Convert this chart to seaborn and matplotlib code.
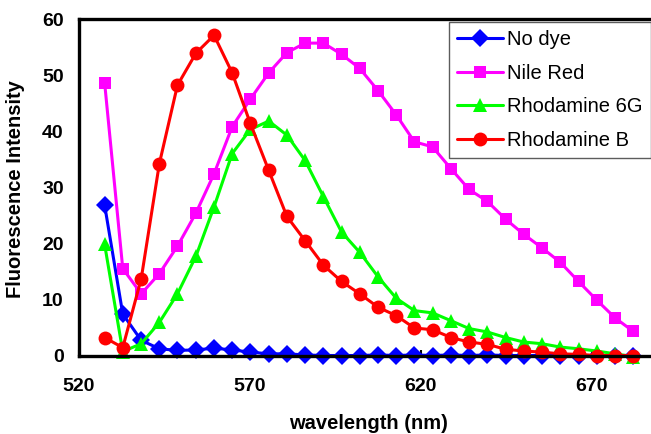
import matplotlib
matplotlib.use("Agg")
import matplotlib.pyplot as plt
import seaborn as sns
import pandas as pd

wavelength = [527.5, 532.8, 538.2, 543.5, 548.8, 554.2, 559.5, 564.8, 570.1, 575.5,
              580.8, 586.1, 591.5, 596.8, 602.1, 607.5, 612.8, 618.1, 623.4, 628.8,
              634.1, 639.4, 644.8, 650.1, 655.4, 660.8, 666.1, 671.4, 676.8, 682.1]

no_dye = [26.8, 7.4, 2.7, 1.2, 0.9, 1.0, 1.3, 1.0, 0.6, 0.3,
          0.3, 0.1, 0.0, 0.0, 0.0, 0.1, 0.0, 0.1, 0.0, 0.1,
          0.0, 0.1, 0.0, 0.0, 0.0, 0.0, 0.0, 0.0, 0.0, 0.0]
nile_red = [48.6, 15.5, 11.0, 14.6, 19.5, 25.4, 32.4, 40.8, 45.7, 50.4,
            54.0, 55.7, 55.7, 53.7, 51.2, 47.2, 42.9, 38.1, 37.2, 33.3,
            29.6, 27.5, 24.3, 21.6, 19.2, 16.6, 13.2, 9.9, 6.7, 4.3]
rhodamine_6g = [19.8, 0.7, 2.1, 5.9, 11.0, 17.7, 26.5, 36.0, 40.3, 41.8,
                39.3, 34.8, 28.3, 22.0, 18.4, 14.0, 10.2, 8.0, 7.6, 6.2,
                4.8, 4.2, 3.2, 2.4, 2.1, 1.5, 1.2, 0.8, 0.3, -0.2]
rhodamine_b = [3.2, 1.4, 13.7, 34.2, 48.2, 53.9, 57.1, 50.4, 41.4, 33.0,
               24.8, 20.5, 16.1, 13.2, 11.0, 8.6, 7.1, 4.9, 4.6, 3.2,
               2.4, 2.0, 1.1, 0.8, 0.6, 0.3, 0.2, 0.0, 0.0, 0.0]

series_names = ["No dye", "Nile Red", "Rhodamine 6G", "Rhodamine B"]
series_values = [no_dye, nile_red, rhodamine_6g, rhodamine_b]
colors = ["#0000FF", "#FF00FF", "#00FF00", "#FF0000"]
markers = ["D", "s", "^", "o"]
msizes = [9, 9, 10, 10]

x_ticks = [520, 570, 620, 670]
y_ticks = [0, 10, 20, 30, 40, 50, 60]

sns.set_theme(style="white")
plt.rcParams["font.family"] = ["Liberation Sans", "DejaVu Sans"]
plt.rcParams["text.color"] = "black"
plt.rcParams["axes.labelcolor"] = "black"
plt.rcParams["xtick.color"] = "black"
plt.rcParams["ytick.color"] = "black"

fig = plt.figure(figsize=(6.51, 4.34), dpi=100)
ax = fig.add_axes([79 / 651, 1 - 355.5 / 434, (651 - 79) / 651, (355.5 - 19) / 434])

for name, vals, c, m, ms in zip(series_names, series_values, colors, markers, msizes):
    df = pd.DataFrame({"wavelength": wavelength, "intensity": vals})
    sns.lineplot(data=df, x="wavelength", y="intensity", ax=ax, color=c,
                 marker=m, markersize=ms, markeredgecolor=c, markeredgewidth=0,
                 linewidth=2.2, label=name, clip_on=False)

ax.set_xlim(520, 687.3)
ax.set_ylim(0, 60)
ax.set_xticks(x_ticks)
ax.set_yticks(y_ticks)
ax.set_xticklabels([str(t) for t in x_ticks], fontweight="bold", fontsize=14)
ax.set_yticklabels([str(t) for t in y_ticks], fontweight="bold", fontsize=14)
ax.tick_params(axis="x", direction="in", length=4, width=1.5, color="black",
               labelcolor="black", pad=16, bottom=True)
ax.tick_params(axis="y", length=0, pad=11, labelcolor="black")

for side in ["left", "bottom", "top"]:
    ax.spines[side].set_color("black")
    ax.spines[side].set_linewidth(2.4)
    ax.spines[side].set_visible(True)
ax.spines["right"].set_visible(False)

ax.set_xlabel("wavelength (nm)", fontweight="bold", fontsize=14.5, color="black")
ax.set_ylabel("Fluorescence Intensity", fontweight="bold", fontsize=14.5, color="black")
ax.xaxis.set_label_coords(0.506, -0.175)
ax.yaxis.set_label_coords(-0.094, 0.495)

leg = ax.legend(loc="upper right", bbox_to_anchor=(1.0, 0.99), fontsize=14.5,
                frameon=True, fancybox=False, edgecolor="#333333",
                handlelength=2.3, handletextpad=0.2, labelspacing=0.72,
                borderpad=0.4, borderaxespad=0.0)
leg.get_frame().set_linewidth(1.0)
for t in leg.get_texts():
    t.set_color("black")

fig.savefig("out.png", dpi=100)
